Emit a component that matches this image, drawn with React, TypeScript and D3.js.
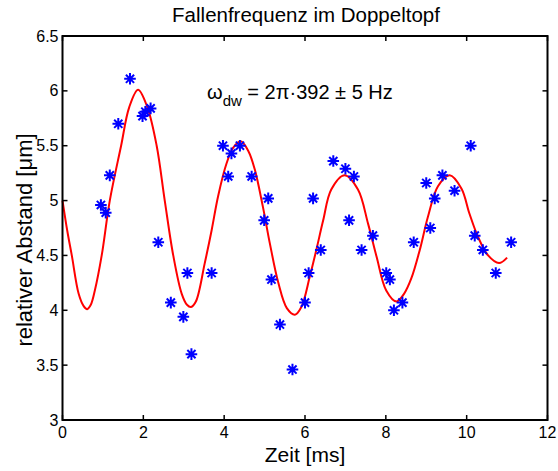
import React from "react";
import * as d3 from "d3";

const measTime = [0.95, 1.07, 1.17, 1.38, 1.67, 1.98, 2.05, 2.18, 2.37, 2.68, 2.99, 3.09, 3.19, 3.69, 3.97, 4.10, 4.18, 4.39, 4.68, 4.99, 5.09, 5.17, 5.38, 5.69, 6.00, 6.09, 6.20, 6.39, 6.70, 7.00, 7.09, 7.21, 7.40, 7.68, 8.01, 8.10, 8.20, 8.41, 8.69, 9.00, 9.10, 9.21, 9.40, 9.70, 10.10, 10.20, 10.40, 10.72, 11.10];
const measDist = [4.96, 4.89, 5.23, 5.70, 6.11, 5.77, 5.81, 5.84, 4.62, 4.07, 3.94, 4.34, 3.60, 4.34, 5.50, 5.22, 5.43, 5.50, 5.22, 4.82, 5.02, 4.28, 3.87, 3.46, 4.07, 4.34, 5.02, 4.55, 5.36, 5.29, 4.82, 5.22, 4.55, 4.68, 4.34, 4.28, 4.00, 4.07, 4.62, 5.16, 4.75, 5.02, 5.23, 5.09, 5.50, 4.68, 4.55, 4.34, 4.62];

const fitTime = [0, 0.12, 0.23, 0.4, 0.52, 0.61, 0.7, 0.8, 0.97, 1.17, 1.45, 1.65, 1.87, 2.1, 2.33, 2.53, 2.74, 2.95, 3.08, 3.18, 3.3, 3.52, 3.69, 3.85, 4.06, 4.22, 4.41, 4.6, 4.76, 4.96, 5.13, 5.34, 5.55, 5.75, 5.91, 6.12, 6.28, 6.45, 6.65, 6.98, 7.31, 7.56, 7.77, 8.01, 8.26, 8.45, 8.63, 8.84, 9.04, 9.29, 9.58, 9.87, 10.07, 10.28, 10.53, 10.8, 11.0];
const fitDist = [5.0, 4.72, 4.5, 4.15, 4.04, 4.01, 4.05, 4.18, 4.5, 5.0, 5.5, 5.85, 6.01, 5.85, 5.5, 5.0, 4.5, 4.15, 4.05, 4.03, 4.08, 4.43, 4.73, 5.04, 5.34, 5.48, 5.54, 5.45, 5.28, 4.94, 4.61, 4.25, 4.02, 3.96, 4.03, 4.31, 4.55, 4.82, 5.10, 5.23, 5.10, 4.79, 4.49, 4.18, 4.08, 4.15, 4.29, 4.55, 4.85, 5.13, 5.23, 5.11, 4.88, 4.67, 4.50, 4.43, 4.48];

const xTicks = [0, 2, 4, 6, 8, 10, 12];
const yTicks = [3, 3.5, 4, 4.5, 5, 5.5, 6, 6.5];

const W = 558, H = 471;
const L = 62.5, R = 547.5, T = 36, B = 420;
const FONT = "Liberation Sans, Arial, Helvetica, sans-serif";

export default function App() {
  const x = d3.scaleLinear().domain([0, 12]).range([L, R]);
  const y = d3.scaleLinear().domain([3, 6.5]).range([B, T]);
  const fitPts: [number, number][] = fitTime.map((t, i) => [t, fitDist[i]]);
  const line = d3.line<[number, number]>()
    .x(d => x(d[0]))
    .y(d => y(d[1]))
    .curve(d3.curveCatmullRom.alpha(0.5));
  const r = 5.8;
  const k = r * 0.7071;
  const star = `M${-r},0H${r}M0,${-r}V${r}M${-k},${-k}L${k},${k}M${-k},${k}L${k},${-k}`;
  const tl = 5;
  return (
    <div style={{ position: "absolute", left: 0, top: 0 }}>
      <svg width={W} height={H} style={{ display: "block", background: "#fff" }}>
        <rect x={0} y={0} width={W} height={H} fill="#fff" />
        <path d={line(fitPts) || ""} fill="none" stroke="#ff0000" strokeWidth={2} />
        {measTime.map((t, i) => (
          <path key={i} d={star} transform={`translate(${x(t)},${y(measDist[i])})`} stroke="#0000ff" strokeWidth={2} fill="none" />
        ))}
        {xTicks.map(t => (
          <g key={"x" + t}>
            <line x1={x(t)} x2={x(t)} y1={B} y2={B - tl} stroke="#000" strokeWidth={1.5} />
            <line x1={x(t)} x2={x(t)} y1={T} y2={T + tl} stroke="#000" strokeWidth={1.5} />
            <text x={x(t)} y={B + 18} textAnchor="middle" fontSize={16} fontFamily={FONT} fill="#000">{t}</text>
          </g>
        ))}
        {yTicks.map(v => (
          <g key={"y" + v}>
            <line x1={L} x2={L + tl} y1={y(v)} y2={y(v)} stroke="#000" strokeWidth={1.5} />
            <line x1={R} x2={R - tl} y1={y(v)} y2={y(v)} stroke="#000" strokeWidth={1.5} />
            <text x={L - 4} y={y(v) + 5.5} textAnchor="end" fontSize={16} fontFamily={FONT} fill="#000">{v}</text>
          </g>
        ))}
        <rect x={L} y={T} width={R - L} height={B - T} fill="none" stroke="#000" strokeWidth={2} />
        <text x={(L + R) / 2 + 1} y={22} textAnchor="middle" fontSize={20.5} fontFamily={FONT} fill="#000">Fallenfrequenz im Doppeltopf</text>
        <text x={(L + R) / 2} y={462} textAnchor="middle" fontSize={21} fontFamily={FONT} fill="#000">Zeit [ms]</text>
        <text transform={`translate(32,${(T + B) / 2 + 12}) rotate(-90)`} textAnchor="middle" fontSize={22} fontFamily={FONT} fill="#000">relativer Abstand [μm]</text>
        <text x={207} y={99} fontSize={20} fontFamily={FONT} fill="#000">
          ω<tspan fontSize={15} dy={7}>dw</tspan><tspan dy={-7}> = 2π·392 ± 5 Hz</tspan>
        </text>
      </svg>
    </div>
  );
}
